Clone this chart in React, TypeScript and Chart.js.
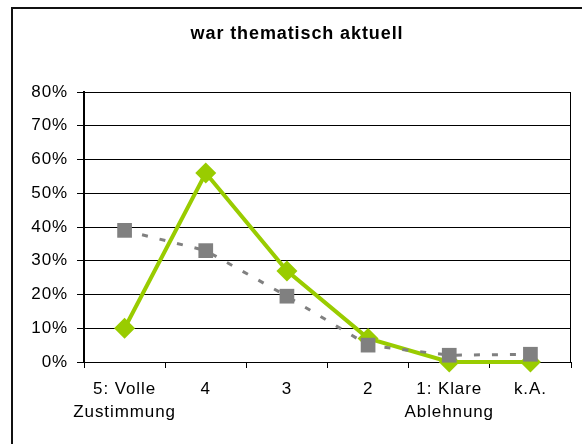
import React, { useEffect, useRef } from "react";
import { Chart, registerables } from "chart.js";

Chart.register(...registerables);

const TITLE = "war thematisch aktuell";
const categories: (string | string[])[] = [
  ["5: Volle", "Zustimmung"],
  "4",
  "3",
  "2",
  ["1: Klare", "Ablehnung"],
  "k.A.",
];
const greenSeries = [10, 56, 27, 7, 0, 0];
const graySeries = [39, 33, 19.5, 5, 2, 2.3];
const yTicks = [0, 10, 20, 30, 40, 50, 60, 70, 80];

const FONT = "'Liberation Sans', Arial, sans-serif";
const SPACING = "0.9px";

const spacingPlugin = {
  id: "spacing",
  beforeLayout(chart: any) {
    chart.ctx.letterSpacing = SPACING;
  },
  beforeDraw(chart: any) {
    chart.ctx.letterSpacing = SPACING;
  },
};

const framePlugin = {
  id: "frame",
  beforeDraw(chart: any) {
    const ctx = chart.ctx;
    ctx.save();
    ctx.fillStyle = "#fff";
    ctx.fillRect(0, 0, chart.width, chart.height);
    ctx.strokeStyle = "#111";
    ctx.lineWidth = 2;
    ctx.beginPath();
    ctx.moveTo(12, chart.height);
    ctx.lineTo(12, 8);
    ctx.lineTo(chart.width, 8);
    ctx.stroke();
    ctx.letterSpacing = SPACING;
    ctx.fillStyle = "#000";
    ctx.font = "bold 18px " + FONT;
    ctx.textAlign = "center";
    ctx.textBaseline = "middle";
    ctx.fillText(TITLE, 297, 34);
    ctx.restore();
  },
  beforeDatasetsDraw(chart: any) {
    const { ctx, chartArea } = chart;
    ctx.save();
    ctx.strokeStyle = "#000";
    ctx.lineWidth = 1;
    ctx.beginPath();
    ctx.moveTo(Math.round(chartArea.right) - 0.5, chartArea.top);
    ctx.lineTo(Math.round(chartArea.right) - 0.5, chartArea.bottom);
    ctx.stroke();
    ctx.restore();
  },
};

export default function App() {
  const ref = useRef<HTMLCanvasElement>(null);
  useEffect(() => {
    if (!ref.current) return;
    const chart = new Chart(ref.current, {
      type: "line",
      data: {
        labels: categories,
        datasets: [
          {
            label: "gray",
            data: graySeries,
            borderColor: "#808080",
            backgroundColor: "#808080",
            borderWidth: 3,
            borderDash: [6, 12],
            pointStyle: "rect",
            pointRadius: 10.4,
            pointHoverRadius: 10.4,
            pointBorderWidth: 0,
            tension: 0,
            clip: false,
          },
          {
            label: "green",
            data: greenSeries,
            borderColor: "#99CC00",
            backgroundColor: "#99CC00",
            borderWidth: 4,
            pointStyle: "rectRot",
            pointRadius: 10.5,
            pointHoverRadius: 10.5,
            pointBorderWidth: 0,
            tension: 0,
            clip: false,
          },
        ],
      },
      options: {
        animation: false,
        responsive: false,
        devicePixelRatio: 1,
        layout: { padding: { top: 92, right: 11, left: 0, bottom: 0 } },
        plugins: {
          legend: { display: false },
          title: { display: false },
          tooltip: { enabled: false },
        },
        scales: {
          x: {
            type: "category",
            offset: true,
            grid: {
              offset: true,
              drawOnChartArea: false,
              drawTicks: true,
              tickLength: 6,
              color: "#000",
            },
            border: { color: "#000", width: 1 },
            ticks: {
              color: "#000",
              padding: 10,
              maxRotation: 0,
              autoSkip: false,
              font: { family: FONT, size: 17, lineHeight: 1.36 },
            },
            afterFit: (s: any) => {
              s.height = 82;
            },
          },
          y: {
            min: 0,
            max: 80,
            afterBuildTicks: (s: any) => {
              s.ticks = yTicks.map((v) => ({ value: v }));
            },
            grid: {
              color: "#000",
              lineWidth: 1,
              tickLength: 7,
              drawTicks: true,
            },
            border: { color: "#000", width: 2 },
            ticks: {
              color: "#000",
              padding: 9,
              font: { family: FONT, size: 17 },
              callback: (v: any) => v + "%",
            },
            afterFit: (s: any) => {
              s.width = 84;
            },
          },
        },
      },
      plugins: [spacingPlugin, framePlugin],
    });
    return () => chart.destroy();
  }, []);
  return (
    <div style={{ position: "absolute", left: 0, top: 0, width: 582, height: 444, background: "#fff" }}>
      <canvas ref={ref} width={582} height={444} style={{ display: "block" }} />
    </div>
  );
}
